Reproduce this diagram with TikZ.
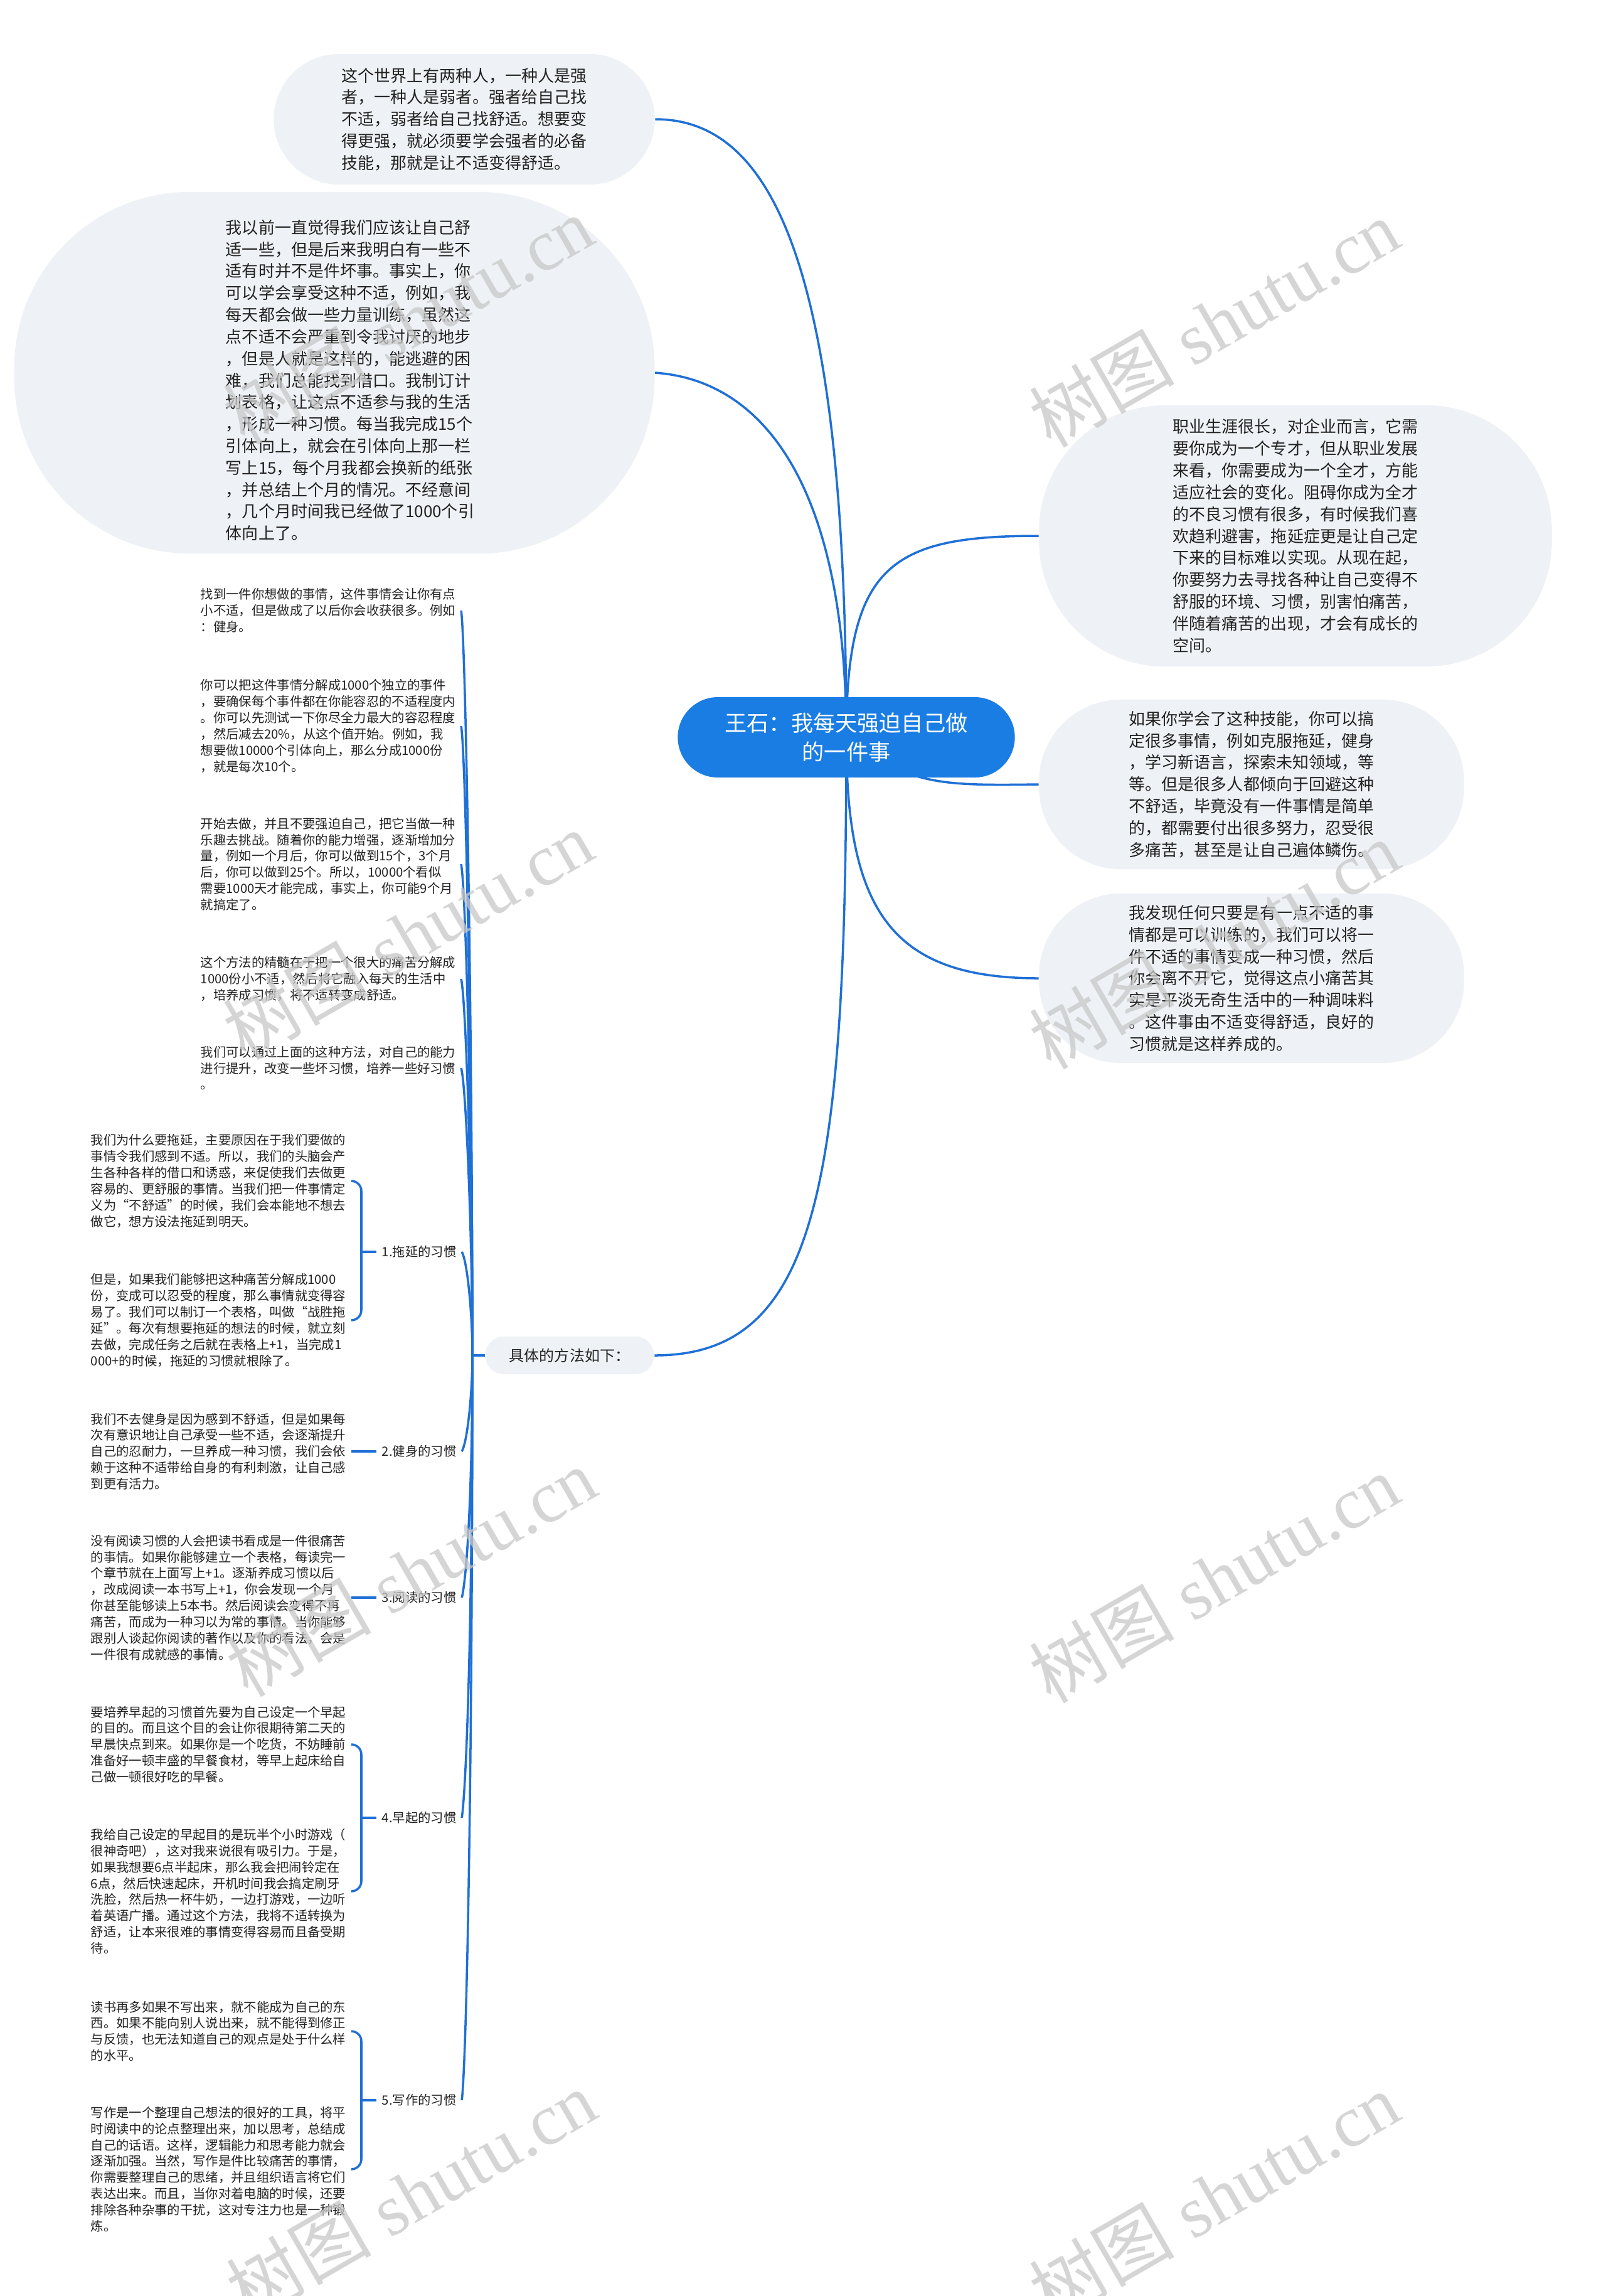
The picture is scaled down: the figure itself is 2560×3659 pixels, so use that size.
\documentclass[tikz,border=0pt]{standalone}
\usepackage{fontspec}
\setmainfont{Noto Sans CJK SC}
\newfontfamily\wmserif{Liberation Serif}
\usetikzlibrary{backgrounds}
\definecolor{lineblue}{HTML}{1F70D6}
\definecolor{rootblue}{HTML}{1A7DE3}
\definecolor{bubblefill}{HTML}{EEF1F5}
\definecolor{txt}{HTML}{222222}
\definecolor{wm}{HTML}{C8C8C8}
\begin{document}
\begin{tikzpicture}[x=0.01cm,y=-0.01cm,
  bubble/.style={fill=bubblefill, draw=none, inner sep=0pt, align=left, text=txt,
    font=\fontsize{7.4pt}{9.9pt}\selectfont},
  plaintext/.style={inner sep=0pt, align=left, text=txt, font=\fontsize{7.4pt}{9.9pt}\selectfont},
  rootnode/.style={fill=rootblue, draw=none, inner sep=0pt, align=center, text=white,
    font=\fontsize{10pt}{13.3pt}\selectfont, minimum width=5.37cm, minimum height=1.28cm,
    rounded corners=0.64cm},
  midnode/.style={fill=bubblefill, draw=none, inner sep=0pt, text=txt,
    font=\fontsize{6.83pt}{8.5pt}\selectfont, minimum width=2.69cm, minimum height=0.6cm,
    rounded corners=0.3cm},
  small/.style={inner sep=0pt, outer xsep=2.5pt, align=left, text=txt,
    font=\fontsize{5.78pt}{7.35pt}\selectfont, anchor=west},
  conn/.style={draw=lineblue, line width=1pt},
  wmark/.style={text=wm, rotate=30, font=\fontsize{33pt}{33pt}\selectfont, opacity=0.75, inner sep=0pt}
]
\useasboundingbox (0,0) rectangle (2560,3659);

% main bubbles
\node[bubble, minimum width=6.07cm, minimum height=2.08cm, rounded corners=1.04cm] (t1) at (740,190)
{这个世界上有两种人，一种人是强\\者，一种人是弱者。强者给自己找\\不适，弱者给自己找舒适。想要变\\得更强，就必须要学会强者的必备\\技能，那就是让不适变得舒适。};

\node[bubble, minimum width=10.2cm, minimum height=5.76cm, rounded corners=2.8cm] (t2) at (533,594) {};
\node[plaintext] (t2text) at (558,606)
{我以前一直觉得我们应该让自己舒\\适一些，但是后来我明白有一些不\\适有时并不是件坏事。事实上，你\\可以学会享受这种不适，例如，我\\每天都会做一些力量训练，虽然这\\点不适不会严重到令我讨厌的地步\\，但是人就是这样的，能逃避的困\\难，我们总能找到借口。我制订计\\划表格，让这点不适参与我的生活\\，形成一种习惯。每当我完成15个\\引体向上，就会在引体向上那一栏\\写上15，每个月我都会换新的纸张\\，并总结上个月的情况。不经意间\\，几个月时间我已经做了1000个引\\体向上了。};

\node[bubble, minimum width=8.17cm, minimum height=4.16cm, rounded corners=2.0cm] (r1) at (2065,854)
{职业生涯很长，对企业而言，它需\\要你成为一个专才，但从职业发展\\来看，你需要成为一个全才，方能\\适应社会的变化。阻碍你成为全才\\的不良习惯有很多，有时候我们喜\\欢趋利避害，拖延症更是让自己定\\下来的目标难以实现。从现在起，\\你要努力去寻找各种让自己变得不\\舒服的环境、习惯，别害怕痛苦，\\伴随着痛苦的出现，才会有成长的\\空间。};

\node[bubble, minimum width=6.77cm, minimum height=2.7cm, rounded corners=1.3cm] (r2) at (1995,1250)
{如果你学会了这种技能，你可以搞\\定很多事情，例如克服拖延，健身\\，学习新语言，探索未知领域，等\\等。但是很多人都倾向于回避这种\\不舒适，毕竟没有一件事情是简单\\的，都需要付出很多努力，忍受很\\多痛苦，甚至是让自己遍体鳞伤。};

\node[bubble, minimum width=6.77cm, minimum height=2.7cm, rounded corners=1.3cm] (r3) at (1995,1559)
{我发现任何只要是有一点不适的事\\情都是可以训练的，我们可以将一\\件不适的事情变成一种习惯，然后\\你会离不开它，觉得这点小痛苦其\\实是平淡无奇生活中的一种调味料\\。这件事由不适变得舒适，良好的\\习惯就是这样养成的。};

\node[rootnode] (root) at (1349,1175) {王石：我每天强迫自己做\\的一件事};

\node[midnode] (m) at (908,2160) {具体的方法如下：};
\coordinate (j) at (753,2160);

% direct children of m
\node[small] (a) at (311,973) {找到一件你想做的事情，这件事情会让你有点\\小不适，但是做成了以后你会收获很多。例如\\：健身。};
\node[small] (b) at (311,1157) {你可以把这件事情分解成1000个独立的事件\\，要确保每个事件都在你能容忍的不适程度内\\。你可以先测试一下你尽全力最大的容忍程度\\，然后减去20\%，从这个值开始。例如，我\\想要做10000个引体向上，那么分成1000份\\，就是每次10个。};
\node[small] (c) at (311,1377) {开始去做，并且不要强迫自己，把它当做一种\\乐趣去挑战。随着你的能力增强，逐渐增加分\\量，例如一个月后，你可以做到15个，3个月\\后，你可以做到25个。所以，10000个看似\\需要1000天才能完成，事实上，你可能9个月\\就搞定了。};
\node[small] (d) at (311,1560) {这个方法的精髓在于把一个很大的痛苦分解成\\1000份小不适，然后将它融入每天的生活中\\，培养成习惯，将不适转变成舒适。};
\node[small] (e) at (311,1702) {我们可以通过上面的这种方法，对自己的能力\\进行提升，改变一些坏习惯，培养一些好习惯\\。};

% habit labels
\node[small] (l1) at (600,1995) {1.拖延的习惯};
\node[small] (l2) at (600,2313) {2.健身的习惯};
\node[small] (l3) at (600,2546) {3.阅读的习惯};
\node[small] (l4) at (600,2897) {4.早起的习惯};
\node[small] (l5) at (600,3347) {5.写作的习惯};

% habit children
\node[small] (c1a) at (136,1882) {我们为什么要拖延，主要原因在于我们要做的\\事情令我们感到不适。所以，我们的头脑会产\\生各种各样的借口和诱惑，来促使我们去做更\\容易的、更舒服的事情。当我们把一件事情定\\义为“不舒适”的时候，我们会本能地不想去\\做它，想方设法拖延到明天。};
\node[small] (c1b) at (136,2104) {但是，如果我们能够把这种痛苦分解成1000\\份，变成可以忍受的程度，那么事情就变得容\\易了。我们可以制订一个表格，叫做“战胜拖\\延”。每次有想要拖延的想法的时候，就立刻\\去做，完成任务之后就在表格上+1，当完成1\\000+的时候，拖延的习惯就根除了。};
\node[small] (c2) at (136,2313) {我们不去健身是因为感到不舒适，但是如果每\\次有意识地让自己承受一些不适，会逐渐提升\\自己的忍耐力，一旦养成一种习惯，我们会依\\赖于这种不适带给自身的有利刺激，让自己感\\到更有活力。};
\node[small] (c3) at (136,2546) {没有阅读习惯的人会把读书看成是一件很痛苦\\的事情。如果你能够建立一个表格，每读完一\\个章节就在上面写上+1。逐渐养成习惯以后\\，改成阅读一本书写上+1，你会发现一个月\\你甚至能够读上5本书。然后阅读会变得不再\\痛苦，而成为一种习以为常的事情。当你能够\\跟别人谈起你阅读的著作以及你的看法，会是\\一件很有成就感的事情。};
\node[small] (c4a) at (136,2780) {要培养早起的习惯首先要为自己设定一个早起\\的目的。而且这个目的会让你很期待第二天的\\早晨快点到来。如果你是一个吃货，不妨睡前\\准备好一顿丰盛的早餐食材，等早上起床给自\\己做一顿很好吃的早餐。};
\node[small] (c4b) at (136,3014) {我给自己设定的早起目的是玩半个小时游戏（\\很神奇吧），这对我来说很有吸引力。于是，\\如果我想要6点半起床，那么我会把闹铃定在\\6点，然后快速起床，开机时间我会搞定刷牙\\洗脸，然后热一杯牛奶，一边打游戏，一边听\\着英语广播。通过这个方法，我将不适转换为\\舒适，让本来很难的事情变得容易而且备受期\\待。};
\node[small] (c5a) at (136,3237) {读书再多如果不写出来，就不能成为自己的东\\西。如果不能向别人说出来，就不能得到修正\\与反馈，也无法知道自己的观点是处于什么样\\的水平。};
\node[small] (c5b) at (136,3457) {写作是一个整理自己想法的很好的工具，将平\\时阅读中的论点整理出来，加以思考，总结成\\自己的话语。这样，逻辑能力和思考能力就会\\逐渐加强。当然，写作是件比较痛苦的事情，\\你需要整理自己的思绪，并且组织语言将它们\\表达出来。而且，当你对着电脑的时候，还要\\排除各种杂事的干扰，这对专注力也是一种锻\\炼。};

\begin{pgfonlayer}{background}
\fill[white] (0,0) rectangle (2560,3659);
\draw[conn] (root.center) .. controls (1349,420) and (1230,190) .. (t1.east);
\draw[conn] (root.center) .. controls (1349,780) and (1220,606) .. (t2.east);
\draw[conn] (root.center) .. controls (1349,900) and (1420,854) .. (r1.west);
\draw[conn] (root.center) .. controls (1450,1252) and (1500,1252) .. (r2.west);
\draw[conn] (root.center) .. controls (1349,1450) and (1420,1559) .. (r3.west);
\draw[conn] (root.center) .. controls (1349,1900) and (1300,2160) .. (m.east);
\draw[conn] (m.west) -- (j);
\draw[conn] (j) .. controls (753,1685) and (743,1030) .. (a.east);
\draw[conn] (j) .. controls (753,1760) and (743,1205) .. (b.east);
\draw[conn] (j) .. controls (753,1846) and (743,1420) .. (c.east);
\draw[conn] (j) .. controls (753,1920) and (743,1595) .. (d.east);
\draw[conn] (j) .. controls (753,1976) and (743,1730) .. (e.east);
\draw[conn] (j) .. controls (753,2094) and (745,2010) .. (l1.east);
\draw[conn] (j) .. controls (753,2221) and (745,2298) .. (l2.east);
\draw[conn] (j) .. controls (753,2392) and (743,2520) .. (l3.east);
\draw[conn] (j) .. controls (753,2603) and (743,2850) .. (l4.east);
\draw[conn] (j) .. controls (753,2872) and (743,3290) .. (l5.east);
\end{pgfonlayer}

% brackets
\draw[conn, rounded corners=0.16cm] (c1a.east) -| (576,1995) |- (c1b.east);
\draw[conn] (576,1995) -- (l1.west);
\draw[conn] (c2.east) -- (l2.west);
\draw[conn] (c3.east) -- (l3.west);
\draw[conn, rounded corners=0.16cm] (c4a.east) -| (576,2897) |- (c4b.east);
\draw[conn] (576,2897) -- (l4.west);
\draw[conn, rounded corners=0.16cm] (c5a.east) -| (576,3347) |- (c5b.east);
\draw[conn] (576,3347) -- (l5.west);

% watermarks
\node[wmark] (w1) at (650,510) {树图\hspace{0.25em}{\wmserif shutu.cn}};
\node[wmark] (w2) at (1935,515) {树图\hspace{0.25em}{\wmserif shutu.cn}};
\node[wmark] (w3) at (650,1490) {树图\hspace{0.25em}{\wmserif shutu.cn}};
\node[wmark] (w4) at (1935,1505) {树图\hspace{0.25em}{\wmserif shutu.cn}};
\node[wmark] (w5) at (655,2505) {树图\hspace{0.25em}{\wmserif shutu.cn}};
\node[wmark] (w6) at (1935,2515) {树图\hspace{0.25em}{\wmserif shutu.cn}};
\node[wmark] (w7) at (655,3497) {树图\hspace{0.25em}{\wmserif shutu.cn}};
\node[wmark] (w8) at (1935,3500) {树图\hspace{0.25em}{\wmserif shutu.cn}};
\end{tikzpicture}
\end{document}
